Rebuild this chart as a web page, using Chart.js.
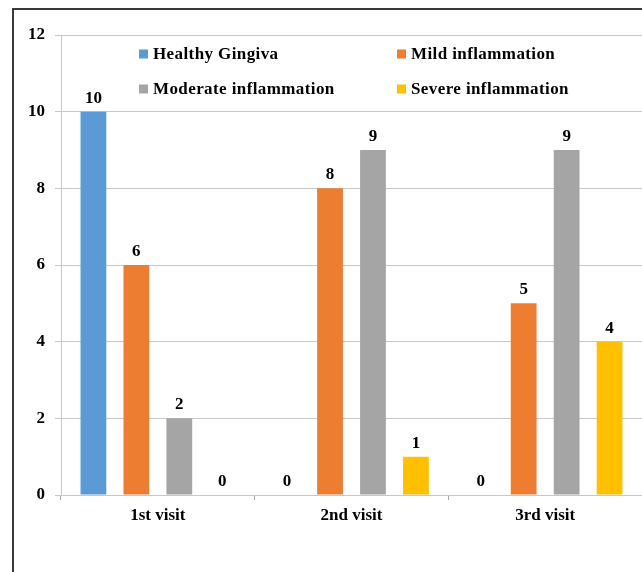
<!DOCTYPE html>
<html>
<head>
<meta charset="utf-8">
<script src="https://cdn.jsdelivr.net/npm/chart.js@4/dist/chart.umd.min.js"></script>
<style>
  html, body { margin: 0; padding: 0; background: #fff; }
  #wrap { position: relative; width: 642px; height: 572px; }
</style>
</head>
<body>
<div id="wrap"><canvas id="c" width="642" height="572"></canvas></div>
<script>
// Visits and gingival status counts
const visits = ["1st visit", "2nd visit", "3rd visit"];
const healthy = [10, 0, 0];
const mild = [6, 8, 5];
const moderate = [2, 9, 9];
const severe = [0, 1, 4];
const seriesNames = ["Healthy Gingiva", "Mild inflammation", "Moderate inflammation", "Severe inflammation"];
const seriesColors = ["#5B9BD5", "#ED7D31", "#A5A5A5", "#FFC000"];

const FONT = "'Liberation Serif', 'Times New Roman', serif";

// Outer frame (left and top edges)
const framePlugin = {
  id: "frame",
  afterDraw(chart) {
    const ctx = chart.ctx;
    ctx.save();
    ctx.strokeStyle = "#3a3a3a";
    ctx.lineWidth = 2;
    ctx.beginPath();
    ctx.moveTo(13, chart.height);
    ctx.lineTo(13, 9);
    ctx.lineTo(chart.width, 9);
    ctx.stroke();
    ctx.restore();
  }
};

// Value labels above each bar
const valueLabels = {
  id: "valueLabels",
  afterDatasetsDraw(chart) {
    const ctx = chart.ctx;
    ctx.save();
    ctx.font = "bold 17px " + FONT;
    ctx.fillStyle = "#000";
    ctx.textAlign = "center";
    ctx.textBaseline = "bottom";
    chart.data.datasets.forEach((ds, i) => {
      chart.getDatasetMeta(i).data.forEach((bar, j) => {
        ctx.fillText(String(ds.data[j]), bar.x, bar.y - 5);
      });
    });
    ctx.restore();
  }
};

// Two-column legend inside the plot area
const innerLegend = {
  id: "innerLegend",
  afterDraw(chart) {
    const ctx = chart.ctx;
    const cols = [139, 397];
    const rows = [54, 89];
    ctx.save();
    ctx.font = "bold 17px " + FONT;
    ctx.textBaseline = "middle";
    ctx.textAlign = "left";
    if ("letterSpacing" in ctx) ctx.letterSpacing = "0.4px";
    chart.data.datasets.forEach((ds, i) => {
      const x = cols[i % 2];
      const y = rows[Math.floor(i / 2)];
      ctx.fillStyle = ds.backgroundColor;
      ctx.fillRect(x, y - 4.5, 9, 9);
      ctx.fillStyle = "#000";
      ctx.fillText(ds.label, x + 14, y + 1);
    });
    ctx.restore();
  }
};

const seriesData = [healthy, mild, moderate, severe];

new Chart(document.getElementById("c"), {
  type: "bar",
  data: {
    labels: visits,
    datasets: seriesData.map((d, i) => ({
      label: seriesNames[i],
      data: d,
      backgroundColor: seriesColors[i],
      borderWidth: 0,
      categoryPercentage: 0.887,
      barPercentage: 0.6
    }))
  },
  options: {
    responsive: false,
    animation: false,
    devicePixelRatio: 1,
    layout: { padding: { top: 35, left: 0, right: 0, bottom: 0 } },
    plugins: {
      legend: { display: false },
      tooltip: { enabled: false }
    },
    scales: {
      x: {
        afterFit(scale) { scale.height = 77; },
        grid: {
          display: true,
          drawOnChartArea: false,
          drawTicks: true,
          tickLength: 5,
          color: "#a6a6a6"
        },
        border: { display: true, color: "#c8c8c8", width: 1 },
        ticks: {
          color: "#000",
          padding: 5,
          font: { family: FONT, size: 17, weight: "bold" }
        }
      },
      y: {
        min: 0,
        max: 12,
        afterFit(scale) { scale.width = 61; },
        grid: {
          color: "#c8c8c8",
          drawTicks: true,
          tickLength: 6
        },
        border: { display: true, color: "#c8c8c8", width: 1 },
        ticks: {
          stepSize: 2,
          color: "#000",
          padding: 10,
          font: { family: FONT, size: 17, weight: "bold" }
        }
      }
    }
  },
  plugins: [valueLabels, innerLegend, framePlugin]
});
</script>
</body>
</html>
